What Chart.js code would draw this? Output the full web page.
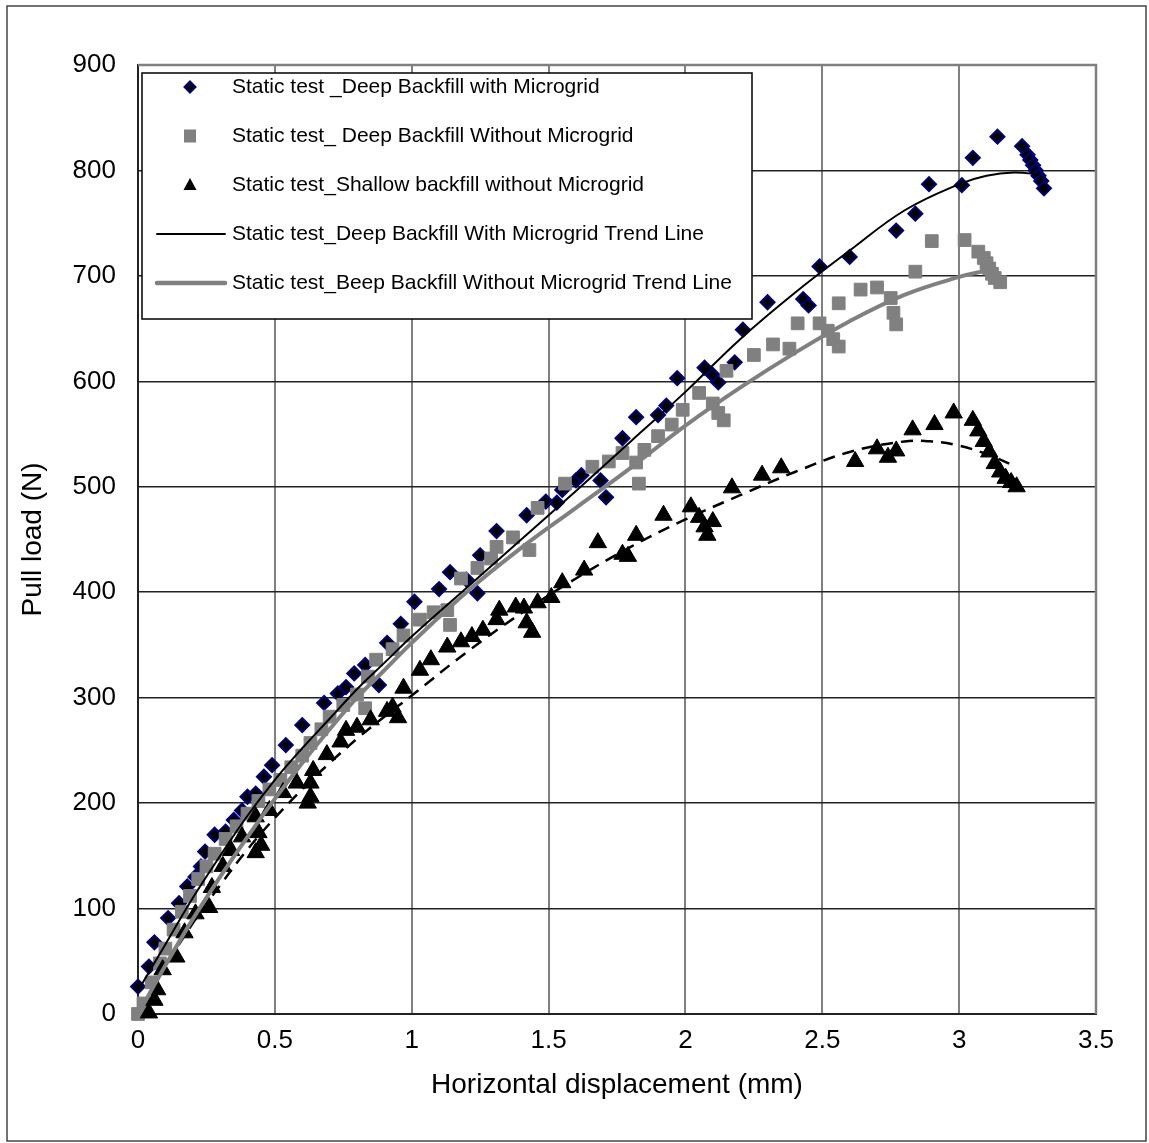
<!DOCTYPE html>
<html>
<head>
<meta charset="utf-8">
<script src="https://cdn.jsdelivr.net/npm/chart.js@4.4.0/dist/chart.umd.min.js"></script>
<style>
html, body { margin: 0; padding: 0; background: #fff; }
canvas { display: block; }
</style>
</head>
<body>
<canvas id="chart" width="1149" height="1143"></canvas>
<script>
// --- data ---
var xTickLabels = ['0', '0.5', '1', '1.5', '2', '2.5', '3', '3.5'];
var yTickLabels = ['0', '100', '200', '300', '400', '500', '600', '700', '800', '900'];

var legendLabels = [
    'Static test _Deep Backfill with Microgrid',
    'Static test_ Deep Backfill Without Microgrid',
    'Static test_Shallow backfill without Microgrid',
    'Static test_Deep Backfill With Microgrid Trend Line',
    'Static test_Beep Backfill Without Microgrid Trend Line'
];

// deep backfill with microgrid (diamonds)
var deepWithX = [0.00, 0.04, 0.06, 0.11, 0.15, 0.18, 0.21, 0.23, 0.245, 0.28, 0.32, 0.35, 0.38, 0.40, 0.43, 0.46, 0.49, 0.54, 0.60, 0.68,
    0.73, 0.76, 0.79, 0.83, 0.88, 0.91, 0.96, 1.01, 1.10, 1.14, 1.20, 1.24, 1.25, 1.31, 1.42, 1.49, 1.53, 1.55, 1.60, 1.62,
    1.69, 1.71, 1.77, 1.82, 1.90, 1.93, 1.97, 2.07, 2.10, 2.12, 2.18, 2.21, 2.30, 2.43, 2.45, 2.49, 2.60, 2.77, 2.84, 2.89,
    3.01, 3.05, 3.14, 3.23, 3.25, 3.26, 3.27, 3.28, 3.29, 3.30, 3.31];
var deepWithY = [26, 45, 68, 91, 105, 121, 130, 140, 154, 170, 173, 184, 193, 206, 209, 225, 236, 255, 274, 295,
    304, 310, 323, 331, 312, 352, 370, 391, 403, 419, 412, 399, 435, 458, 473, 486, 485, 497, 506, 511,
    506, 490, 546, 566, 568, 577, 603, 613, 606, 599, 618, 649, 675, 678, 672, 709, 718, 743, 759, 787,
    786, 812, 832, 823, 815, 810, 805, 800, 795, 790, 783];

// deep backfill without microgrid (squares)
var deepWithoutX = [0.00, 0.02, 0.05, 0.08, 0.10, 0.13, 0.16, 0.19, 0.22, 0.25, 0.28, 0.32, 0.36, 0.40, 0.44, 0.48, 0.52, 0.56, 0.60, 0.63,
    0.67, 0.70, 0.75, 0.80, 0.83, 0.84, 0.87, 0.93, 0.97, 1.03, 1.08, 1.13, 1.14, 1.18, 1.24, 1.29, 1.31, 1.37, 1.43, 1.46,
    1.56, 1.66, 1.72, 1.77, 1.82, 1.83, 1.85, 1.90, 1.95, 1.99, 2.05, 2.10, 2.12, 2.14, 2.15, 2.25, 2.32, 2.38, 2.41, 2.49,
    2.52, 2.54, 2.56, 2.56, 2.64, 2.70, 2.75, 2.76, 2.77, 2.84, 2.90, 3.02, 3.07, 3.09, 3.10, 3.11, 3.12, 3.13, 3.15];
var deepWithoutY = [0, 10, 30, 48, 62, 80, 97, 112, 128, 140, 152, 166, 178, 190, 202, 213, 222, 234, 245, 257,
    270, 282, 293, 303, 290, 320, 336, 346, 359, 374, 381, 383, 369, 413, 423, 432, 443, 452, 440, 480,
    503, 519, 524, 532, 523, 503, 535, 548, 559, 573, 589, 579, 570, 563, 610, 625, 635, 631, 655, 655,
    648, 640, 633, 674, 687, 689, 679, 665, 654, 704, 733, 734, 723, 717, 712, 707, 702, 698, 694];

// shallow backfill without microgrid (triangles)
var shallowX = [0.04, 0.06, 0.07, 0.09, 0.14, 0.17, 0.21, 0.26, 0.27, 0.31, 0.34, 0.38, 0.43, 0.43, 0.44, 0.45, 0.48, 0.53, 0.58, 0.62,
    0.63, 0.63, 0.64, 0.69, 0.74, 0.76, 0.80, 0.85, 0.91, 0.93, 0.95, 0.97, 1.03, 1.07, 1.13, 1.18, 1.22, 1.26, 1.31, 1.32,
    1.38, 1.41, 1.42, 1.44, 1.46, 1.51, 1.55, 1.63, 1.68, 1.77, 1.79, 1.82, 1.92, 2.02, 2.05, 2.07, 2.08, 2.10, 2.17, 2.28,
    2.35, 2.62, 2.70, 2.74, 2.77, 2.83, 2.91, 2.98, 3.05, 3.07, 3.09, 3.11, 3.13, 3.15, 3.17, 3.19, 3.21];
var shallowY = [1, 13, 23, 42, 54, 77, 95, 101, 120, 140, 155, 168, 187, 153, 172, 160, 193, 210, 219, 200,
    219, 206, 231, 246, 258, 269, 272, 279, 287, 291, 281, 309, 326, 336, 348, 353, 358, 364, 374, 383,
    386, 385, 371, 362, 390, 395, 409, 421, 447, 436, 434, 454, 473, 481, 471, 462, 454, 467, 499, 511,
    518, 524, 536, 528, 534, 554, 559, 570, 563, 553, 543, 533, 522, 514, 508, 504, 500];

// trend lines
var trendWithX = [0, 0.1, 0.2, 0.3, 0.4, 0.5, 0.6, 0.7, 0.8, 0.9, 1.0, 1.2, 1.4, 1.6, 1.8, 2.0, 2.2, 2.4, 2.6, 2.8, 3.0, 3.1, 3.2, 3.3];
var trendWithY = [22, 66, 110, 150, 188, 222, 252, 280, 308, 333, 358, 404, 450, 496, 543, 590, 640, 684, 724, 762, 787, 795, 798, 796];

var trendWithoutX = [0, 0.1, 0.2, 0.3, 0.4, 0.5, 0.6, 0.7, 0.8, 0.9, 1.0, 1.2, 1.4, 1.6, 1.8, 2.0, 2.2, 2.4, 2.6, 2.8, 3.0, 3.1];
var trendWithoutY = [0, 46, 90, 130, 168, 204, 238, 270, 300, 326, 352, 400, 442, 480, 518, 558, 594, 627, 657, 682, 699, 705];

var trendShallowX = [0, 0.1, 0.2, 0.3, 0.4, 0.5, 0.6, 0.7, 0.8, 0.9, 1.0, 1.2, 1.4, 1.6, 1.8, 2.0, 2.2, 2.4, 2.6, 2.8, 2.9, 3.0, 3.1, 3.2];
var trendShallowY = [0, 45, 86, 122, 156, 186, 213, 238, 261, 282, 302, 343, 380, 413, 443, 469, 492, 514, 533, 543, 543, 539, 531, 520];

function pts(xs, ys) {
    var out = [];
    for (var i = 0; i < xs.length; i++) {
        out.push({ x: xs[i], y: ys[i] });
    }
    return out;
}

var FONT = "'Liberation Sans', Arial, sans-serif";

// white page, outer frame, grey top/right of the plot box, legend
var framePlugin = {
    id: 'frame',
    beforeDraw: function (chart) {
        var ctx = chart.ctx;
        ctx.save();
        ctx.fillStyle = '#fff';
        ctx.fillRect(0, 0, chart.width, chart.height);
        ctx.strokeStyle = '#444';
        ctx.lineWidth = 1.5;
        ctx.strokeRect(7, 6, 1139, 1135);
        ctx.restore();
    },
    afterDraw: function (chart) {
        var ctx = chart.ctx;
        var a = chart.chartArea;
        ctx.save();
        ctx.strokeStyle = '#808080';
        ctx.lineWidth = 2.5;
        ctx.beginPath();
        ctx.moveTo(a.left, a.top);
        ctx.lineTo(a.right, a.top);
        ctx.lineTo(a.right, a.bottom);
        ctx.stroke();

        // legend box inside the plot
        var bx = 142, by = 73, bw = 610, bh = 246;
        ctx.fillStyle = '#fff';
        ctx.fillRect(bx, by, bw, bh);
        ctx.strokeStyle = '#000';
        ctx.lineWidth = 1.5;
        ctx.strokeRect(bx, by, bw, bh);

        var rows = [87, 136, 185, 234, 283];
        var mx = 190;
        ctx.fillStyle = '#000';
        ctx.strokeStyle = '#000080';
        ctx.lineWidth = 2;
        ctx.beginPath();
        ctx.moveTo(mx, rows[0] - 5.5);
        ctx.lineTo(mx + 5.5, rows[0]);
        ctx.lineTo(mx, rows[0] + 5.5);
        ctx.lineTo(mx - 5.5, rows[0]);
        ctx.closePath();
        ctx.fill();
        ctx.stroke();

        ctx.fillStyle = '#808080';
        ctx.fillRect(mx - 6, rows[1] - 6.5, 12, 13);

        ctx.fillStyle = '#000';
        ctx.beginPath();
        ctx.moveTo(mx, rows[2] - 7);
        ctx.lineTo(mx + 6.5, rows[2] + 5);
        ctx.lineTo(mx - 6.5, rows[2] + 5);
        ctx.closePath();
        ctx.fill();

        ctx.lineCap = 'round';
        ctx.strokeStyle = '#000';
        ctx.lineWidth = 2;
        ctx.beginPath();
        ctx.moveTo(157, rows[3]);
        ctx.lineTo(225, rows[3]);
        ctx.stroke();
        ctx.strokeStyle = '#808080';
        ctx.lineWidth = 4.5;
        ctx.beginPath();
        ctx.moveTo(157, rows[4]);
        ctx.lineTo(225, rows[4]);
        ctx.stroke();

        ctx.fillStyle = '#000';
        ctx.font = '21px ' + FONT;
        ctx.textBaseline = 'middle';
        ctx.textAlign = 'left';
        for (var i = 0; i < legendLabels.length; i++) {
            ctx.fillText(legendLabels[i], 232, rows[i]);
        }
        ctx.restore();
    }
};

var ctx = document.getElementById('chart').getContext('2d');
var chart = new Chart(ctx, {
    type: 'scatter',
    data: {
        datasets: [{
            label: legendLabels[4],
            data: pts(trendWithoutX, trendWithoutY),
            showLine: true,
            borderColor: '#808080',
            borderWidth: 4,
            pointRadius: 0,
            tension: 0.4,
            order: 0
        }, {
            label: legendLabels[3],
            data: pts(trendWithX, trendWithY),
            showLine: true,
            borderColor: '#000',
            borderWidth: 2,
            pointRadius: 0,
            tension: 0.4,
            order: 1
        }, {
            label: 'Shallow trend',
            data: pts(trendShallowX, trendShallowY),
            showLine: true,
            borderColor: '#000',
            borderWidth: 2.5,
            borderDash: [12, 8],
            pointRadius: 0,
            tension: 0.4,
            order: 2
        }, {
            label: legendLabels[2],
            data: pts(shallowX, shallowY),
            pointStyle: 'triangle',
            pointRadius: 10,
            backgroundColor: '#000',
            borderColor: '#000',
            borderWidth: 1,
            clip: false,
            order: 3
        }, {
            label: legendLabels[1],
            data: pts(deepWithoutX, deepWithoutY),
            pointStyle: 'rect',
            pointRadius: 9,
            backgroundColor: '#808080',
            borderColor: '#808080',
            borderWidth: 1,
            clip: false,
            order: 4
        }, {
            label: legendLabels[0],
            data: pts(deepWithX, deepWithY),
            pointStyle: 'rectRot',
            pointRadius: 7,
            backgroundColor: '#000',
            borderColor: '#000080',
            borderWidth: 2,
            clip: false,
            order: 5
        }]
    },
    options: {
        responsive: false,
        animation: false,
        events: [],
        layout: { padding: { top: 65, right: 53, left: 0, bottom: 0 } },
        plugins: {
            legend: { display: false },
            tooltip: { enabled: false }
        },
        scales: {
            x: {
                type: 'linear',
                min: 0,
                max: 3.5,
                afterFit: function (s) { s.height = 129; },
                ticks: {
                    stepSize: 0.5,
                    padding: 11,
                    color: '#000',
                    font: { family: FONT, size: 26 },
                    maxRotation: 0,
                    callback: function (v) { return xTickLabels[Math.round(v * 2)]; }
                },
                grid: { color: '#808080', lineWidth: 2, drawTicks: false },
                border: { color: '#222', width: 2 },
                title: {
                    display: true,
                    text: 'Horizontal displacement (mm)',
                    color: '#000',
                    font: { family: FONT, size: 28 },
                    padding: { top: 0, bottom: 41 }
                }
            },
            y: {
                type: 'linear',
                min: 0,
                max: 900,
                afterFit: function (s) { s.width = 138; },
                ticks: {
                    stepSize: 100,
                    padding: 22,
                    color: '#000',
                    font: { family: FONT, size: 26 },
                    callback: function (v) { return yTickLabels[Math.round(v / 100)]; }
                },
                grid: { color: '#222', lineWidth: 1.5, drawTicks: false },
                border: { color: '#222', width: 2 },
                title: {
                    display: true,
                    text: 'Pull load (N)',
                    color: '#000',
                    font: { family: FONT, size: 28 },
                    padding: { top: 16, bottom: 0 }
                }
            }
        }
    },
    plugins: [framePlugin]
});
</script>
</body>
</html>
